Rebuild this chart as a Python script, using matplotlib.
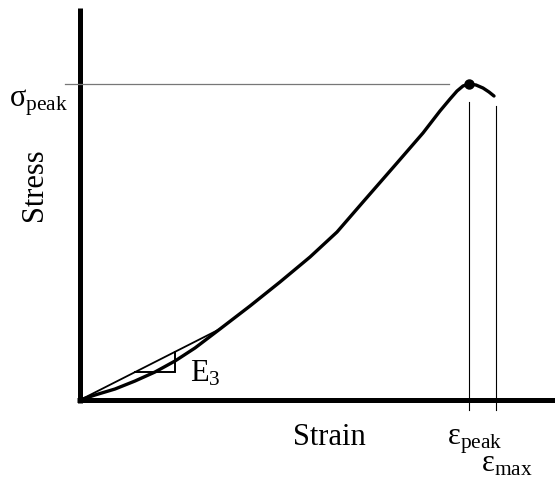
import matplotlib
matplotlib.use("Agg")
import matplotlib.pyplot as plt

plt.rcParams["mathtext.fontset"] = "custom"
plt.rcParams["mathtext.rm"] = "Liberation Serif"
plt.rcParams["mathtext.it"] = "Liberation Serif:italic"
plt.rcParams["font.family"] = ["Liberation Serif", "DejaVu Serif"]

# Normalised stress-strain curve (strain / strain at peak, stress / peak stress)
strain = [0.0, 0.0386, 0.0900, 0.1414, 0.1928, 0.2442, 0.2956, 0.3599,
          0.4370, 0.5141, 0.5913, 0.6607, 0.7275, 0.8149, 0.8817, 0.9254,
          0.9512, 0.9692, 0.9846, 1.0, 1.0180, 1.0360, 1.0514, 1.0643]
stress = [0.0, 0.0158, 0.0348, 0.0601, 0.0886, 0.1234, 0.1646, 0.2247,
          0.2975, 0.3734, 0.4525, 0.5316, 0.6266, 0.7500, 0.8449, 0.9146,
          0.9525, 0.9778, 0.9937, 1.0, 0.9968, 0.9873, 0.9747, 0.9620]

eps_peak = 1.0
eps_max = 1.0694
sigma_peak = 1.0
secant_idx = 7            # curve point that defines the secant modulus E3
tri_left, tri_right = 0.1414, 0.2442   # slope triangle extent along strain

W, H = 555, 479
fig = plt.figure(figsize=(W / 100, H / 100), dpi=100)
ax = fig.add_axes([0, 0, 1, 1])
ax.set_xlim(-0.2057, 1.2211)
ax.set_ylim(-0.25, 1.2658)
ax.axis("off")

# axes drawn as heavy lines
ax.plot([0, 0], [-0.008, 1.239], color="black", lw=3.6, solid_capstyle="butt")
ax.plot([-0.008, 1.222], [0, 0], color="black", lw=3.6, solid_capstyle="butt")

# peak stress reference line
ax.plot([-0.0386, 0.9486], [sigma_peak, sigma_peak], color="#777777", lw=0.9)

# strain markers
ax.plot([eps_peak, eps_peak], [-0.0316, 0.943], color="black", lw=0.8)
ax.plot([eps_max, eps_max], [-0.0316, 0.930], color="black", lw=0.8)

# secant line and slope triangle
sx, sy = strain[secant_idx], stress[secant_idx]
slope = sy / sx
ax.plot([0, sx], [0, sy], color="black", lw=1.3, solid_capstyle="round")
ty = slope * tri_left
ax.plot([tri_left, tri_right, tri_right],
        [ty, ty, ty + slope * (tri_right - tri_left)],
        color="black", lw=1.4, solid_joinstyle="miter")

# stress-strain curve
ax.plot(strain, stress, color="black", lw=2.4,
        solid_joinstyle="round", solid_capstyle="round")
ax.plot([eps_peak], [sigma_peak], "o", color="black", ms=6.5)


def px(x, y):
    return x / W, 1 - y / H


fs = 22
fig.text(*px(9, 106), r"$\mathrm{\sigma}_{\mathrm{peak}}$", fontsize=fs,
         ha="left", va="baseline")
fig.text(*px(34, 185), "Stress", fontsize=fs, rotation=90,
         ha="center", va="center")
fig.text(*px(293, 445), "Strain", fontsize=fs, ha="left", va="baseline")
fig.text(*px(190, 382), r"$\mathrm{E}_{3}$", fontsize=fs,
         ha="left", va="baseline")
fig.text(*px(447, 445), r"$\mathrm{\varepsilon}_{\mathrm{peak}}$", fontsize=fs,
         ha="left", va="baseline")
fig.text(*px(481, 472), r"$\mathrm{\varepsilon}_{\mathrm{max}}$", fontsize=fs,
         ha="left", va="baseline")

fig.savefig("out.png", dpi=100, facecolor="white")
